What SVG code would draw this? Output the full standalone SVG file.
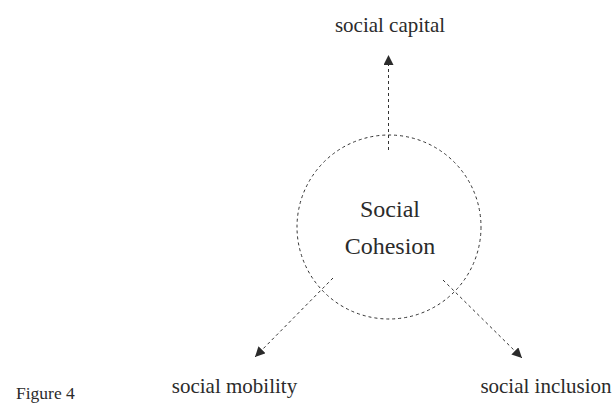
<svg xmlns="http://www.w3.org/2000/svg" width="616" height="403" viewBox="0 0 616 403">
<style>
text{font-family:"Liberation Serif","Times New Roman",serif;fill:#2b2b2b}
.dash{fill:none;stroke:#333;stroke-width:1;stroke-dasharray:3 3}
.lbl{font-size:21px;text-anchor:middle}
</style>
<defs>
<marker id="ah" markerUnits="userSpaceOnUse" markerWidth="10" markerHeight="10" viewBox="0 0 10 10" refX="10" refY="5" orient="auto">
<path d="M0,0 L10,5 L0,10 z" fill="#2b2b2b"/>
</marker>
</defs>
<rect width="616" height="403" fill="#fff"/>
<g id="connectors">
<line class="dash" x1="388.5" y1="150" x2="388.5" y2="55" marker-end="url(#ah)"/>
<line class="dash" x1="333" y1="278" x2="255" y2="357" marker-end="url(#ah)"/>
<line class="dash" x1="443" y1="280" x2="522" y2="358" marker-end="url(#ah)"/>
</g>
<g id="social-cohesion">
<circle class="dash" cx="389" cy="227" r="92"/>
<text x="390" y="217" font-size="24" text-anchor="middle">Social</text>
<text x="390" y="254" font-size="24" text-anchor="middle">Cohesion</text>
</g>
<g id="social-capital"><text class="lbl" x="390" y="32">social capital</text></g>
<g id="social-mobility"><text class="lbl" x="234.5" y="393">social mobility</text></g>
<g id="social-inclusion"><text class="lbl" x="546" y="393">social inclusion</text></g>
<g id="caption"><text x="16" y="399" font-size="17.5">Figure 4</text></g>
</svg>
